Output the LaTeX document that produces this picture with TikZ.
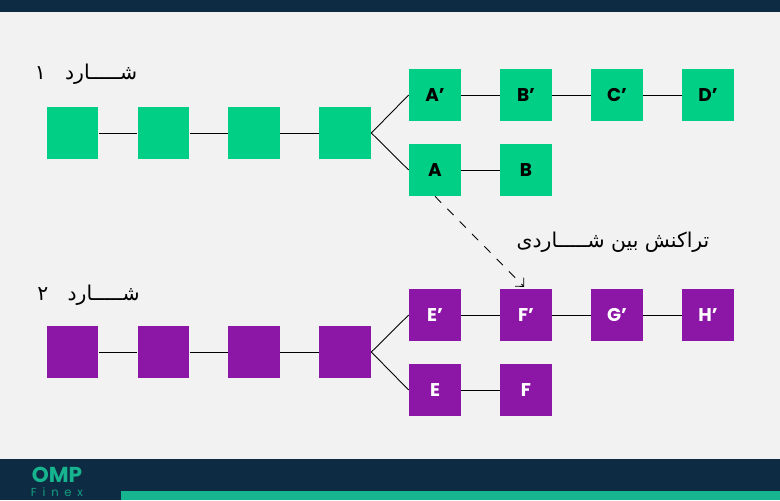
\documentclass[tikz,border=0pt]{standalone}
\usepackage{fontspec}
\setmainfont{Poppins}
\newfontfamily\arabicfont[Script=Arabic]{DejaVu Sans}
\TeXXeTstate=1
\usetikzlibrary{arrows.meta}
\definecolor{bandnavy}{HTML}{0D2B42}
\definecolor{pagegray}{HTML}{F2F2F2}
\definecolor{logoteal}{HTML}{16B48F}
\definecolor{shardgreen}{HTML}{00CF85}
\definecolor{shardpurple}{HTML}{8C16A6}
\begin{document}
\begin{tikzpicture}[
        x=0.02cm,
        y=-0.02cm,
        block/.style={minimum size=1.04cm, inner sep=0pt, font=\bfseries\fontsize{10.5}{11}\selectfont},
        greenblock/.style={block, fill=shardgreen, text=black},
        purpleblock/.style={block, fill=shardpurple, text=white},
        link/.style={draw=black, line width=0.5pt},
        title/.style={inner sep=0pt, text=black, font=\arabicfont\fontsize{11.6}{12}\selectfont}
    ]
    \useasboundingbox (0,0) rectangle (780,500);
    \fill[pagegray] (0,0) rectangle (780,500);
    \fill[bandnavy] (0,0) rectangle (780,12);
    \fill[bandnavy] (0,459) rectangle (780,500);
    \fill[logoteal] (121,491) rectangle (780,500);

    \node[inner sep=0pt, text=logoteal, font=\bfseries\fontsize{12.3}{12.3}\selectfont] (omp) at (57,475) {OMP};
    \node[inner sep=0pt, text=logoteal!85!bandnavy, font=\fontsize{6.6}{6.6}\selectfont] (finex) at (57,492) {F\,\,\,i\,\,\,n\,\,\,e\,\,\,x};

    \node[title] (shardone) at (86,74) {\beginR شـــــارد\ \ \ ۱\endR};
    \node[title] (shardtwo) at (88.5,295) {\beginR شـــــارد\ \ \ ۲\endR};
    \node[title] (cross) at (613,242) {\beginR تراکنش بین شـــــاردی\endR};

    \node[greenblock] (a1) at (72.5,133) {};
    \node[greenblock] (a2) at (163.5,133) {};
    \node[greenblock] (a3) at (254,133) {};
    \node[greenblock] (a4) at (345,133) {};
    \node[greenblock] (Ap) at (435,95) {A’};
    \node[greenblock] (Bp) at (526,95) {B’};
    \node[greenblock] (Cp) at (617,95) {C’};
    \node[greenblock] (Dp) at (708,95) {D’};
    \node[greenblock] (A) at (435,170) {A};
    \node[greenblock] (B) at (526,170) {B};

    \node[purpleblock] (e1) at (72.5,352) {};
    \node[purpleblock] (e2) at (163.5,352) {};
    \node[purpleblock] (e3) at (254,352) {};
    \node[purpleblock] (e4) at (345,352) {};
    \node[purpleblock] (Ep) at (435,315) {E’};
    \node[purpleblock] (Fp) at (526,315) {F’};
    \node[purpleblock] (Gp) at (617,315) {G’};
    \node[purpleblock] (Hp) at (708,315) {H’};
    \node[purpleblock] (E) at (435,390) {E};
    \node[purpleblock] (F) at (526,390) {F};

    \draw[link] (a1) -- (a2) -- (a3) -- (a4);
    \draw[link] (a4.east) -- (Ap.west);
    \draw[link] (a4.east) -- (A.west);
    \draw[link] (Ap) -- (Bp) -- (Cp) -- (Dp);
    \draw[link] (A) -- (B);

    \draw[link] (e1) -- (e2) -- (e3) -- (e4);
    \draw[link] (e4.east) -- (Ep.west);
    \draw[link] (e4.east) -- (E.west);
    \draw[link] (Ep) -- (Fp) -- (Gp) -- (Hp);
    \draw[link] (E) -- (F);

    \draw[link, dash pattern=on 5pt off 5pt, -{Straight Barb[length=3.5pt,width=7pt]}, shorten >=1.5pt] (A.south) -- (Fp.north);
\end{tikzpicture}
\end{document}
